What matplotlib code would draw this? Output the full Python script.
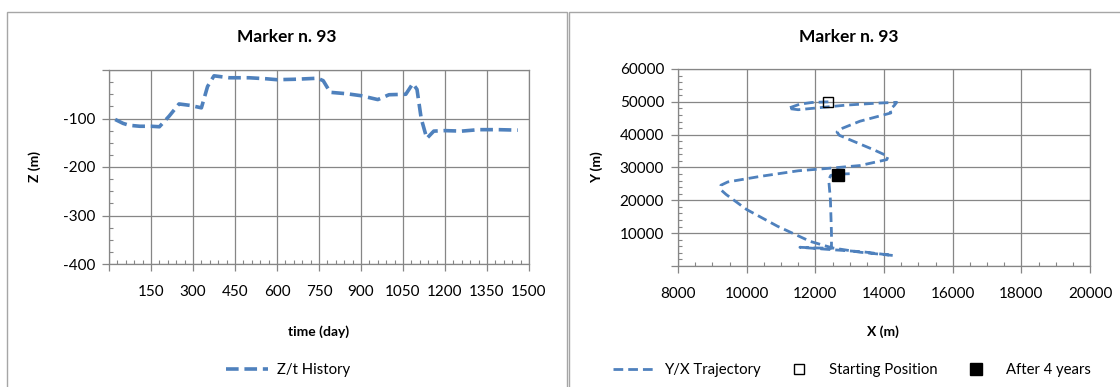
import matplotlib
matplotlib.use('Agg')
import matplotlib.pyplot as plt
from matplotlib.patches import Rectangle

plt.rcParams['font.family'] = ['Lato', 'DejaVu Sans']
plt.rcParams['axes.unicode_minus'] = False

# Z/t history (left chart)
time_day = [22, 50, 72, 110, 150, 180, 215, 250, 290, 330, 352, 375, 430, 500, 560, 600, 670,
            745, 765, 790, 850, 900, 960, 1000, 1060, 1085, 1100, 1115, 1135, 1160, 1200,
            1260, 1320, 1390, 1460]
z_m = [-102, -110, -114, -116, -116, -117, -95, -70, -73, -78, -34, -12, -16, -16, -18, -20, -19,
       -17, -22, -46, -49, -53, -61, -51, -50, -28, -40, -100, -141, -126, -125,
       -126, -123, -123, -124]

# Y/X trajectory (right chart)
traj_x = [12380, 11900, 11550, 11200, 11500, 12100, 12900, 13800, 14370, 14300, 14170, 14200,
          13300, 12800, 12630, 12700, 12950, 13700, 14120, 14080, 13300, 12500, 11500, 10400, 9450,
          9250, 9250, 9400, 10000, 10900, 11850, 12500, 13300, 14270, 13400, 12450, 11550, 12000,
          12470, 12470, 12440, 12390, 12450, 12700, 13000]
traj_y = [50000, 49800, 49300, 48000, 47600, 48200, 49000, 49600, 49850, 48900, 47600, 46600,
          44100, 42000, 40800, 39800, 38700, 35400, 33400, 32400, 30600, 29850, 29000, 27300, 25600,
          24600, 23200, 21800, 17200, 12100, 7500, 5500, 4200, 3200, 4300, 5000, 5700, 5500,
          5400, 10000, 20000, 26300, 27600, 28000, 28100]
start_x, start_y = [12380], [50000]
end_x, end_y = [12670], [27700]

blue = '#4F81BD'
grey = '#868686'

fig = plt.figure(figsize=(11.2, 3.87), dpi=100)

# chart area borders
fig.patches.append(Rectangle((7 / 1120, -0.1), 560 / 1120, 1.1 - 12 / 387, transform=fig.transFigure,
                             fill=False, edgecolor='#a6a6a6', lw=1))
fig.patches.append(Rectangle((569 / 1120, -0.1), 0.6, 1.1 - 12 / 387, transform=fig.transFigure,
                             fill=False, edgecolor='#a6a6a6', lw=1))


def style_axes(ax):
    for s in ax.spines.values():
        s.set_color(grey)
        s.set_linewidth(0.9)
    ax.grid(True, which='major', color=grey, lw=0.9)
    ax.set_axisbelow(True)
    ax.tick_params(which='major', direction='out', length=5, color=grey, width=0.9, labelsize=11)
    ax.tick_params(which='minor', direction='in', length=3, color=grey, width=0.8)
    ax.tick_params(axis='x', which='major', pad=10)
    ax.tick_params(axis='y', which='major', pad=5)


# left chart
ax1 = fig.add_axes([109 / 1120, 123 / 387, 420 / 1120, 194 / 387])
ax1.plot(time_day, z_m, color=blue, lw=2.6, dashes=(3.5, 1.6), label='Z/t History')
ax1.set_xlim(0, 1500)
ax1.set_ylim(-400, 0)
xt = list(range(0, 1501, 150))
ax1.set_xticks(xt)
ax1.set_xticklabels([''] + [str(v) for v in xt[1:]])
yt = [-400, -300, -200, -100, 0]
ax1.set_yticks(yt)
ax1.set_yticklabels(['-400', '-300', '-200', '-100', ''])
ax1.set_xticks(range(0, 1501, 30), minor=True)
ax1.set_yticks(range(-400, 1, 25), minor=True)
style_axes(ax1)
ax1.set_xlabel('time (day)', fontsize=10, fontweight='bold')
ax1.set_ylabel('Z (m)', fontsize=10, fontweight='bold')
ax1.xaxis.set_label_coords(0.5, -0.314)
ax1.yaxis.set_label_coords(-0.162, 0.5)
ax1.legend(loc='center', bbox_to_anchor=(288 / 1120, 1 - 370 / 387), bbox_transform=fig.transFigure,
           frameon=False, fontsize=10.7, handlelength=2.8, handletextpad=0.6)

# right chart
ax2 = fig.add_axes([678 / 1120, 121 / 387, 412 / 1120, 197 / 387])
ax2.plot(traj_x, traj_y, color=blue, lw=2, dashes=(3.5, 1.8), label='Y/X Trajectory')
ax2.plot(start_x, start_y, ls='none', marker='s', ms=7, mfc='none', mec='black', mew=1,
         label='Starting Position')
ax2.plot(end_x, end_y, ls='none', marker='s', ms=8, mfc='black', mec='black',
         label='After 4 years')
ax2.set_xlim(8000, 20000)
ax2.set_ylim(0, 60000)
ax2.set_xticks(range(8000, 20001, 2000))
yt2 = list(range(0, 60001, 10000))
ax2.set_yticks(yt2)
ax2.set_yticklabels([''] + [str(v) for v in yt2[1:]])
ax2.set_xticks(range(8000, 20001, 500), minor=True)
ax2.set_yticks(range(0, 60001, 2000), minor=True)
style_axes(ax2)
ax2.set_xlabel('X (m)', fontsize=10, fontweight='bold')
ax2.set_ylabel('Y (m)', fontsize=10, fontweight='bold')
ax2.xaxis.set_label_coords(0.497, -0.30)
ax2.yaxis.set_label_coords(-0.182, 0.5)
ax2.legend(loc='center', bbox_to_anchor=(852 / 1120, 1 - 370 / 387), bbox_transform=fig.transFigure,
           frameon=False, fontsize=10.7, ncol=3, handlelength=2.8, handletextpad=0.6, columnspacing=1.2)

fig.text(287 / 1120, 1 - 37 / 387, 'Marker n. 93', ha='center', va='center', fontsize=12.5, fontweight='bold')
fig.text(849 / 1120, 1 - 37 / 387, 'Marker n. 93', ha='center', va='center', fontsize=12.5, fontweight='bold')

fig.savefig('out.png', dpi=100)
